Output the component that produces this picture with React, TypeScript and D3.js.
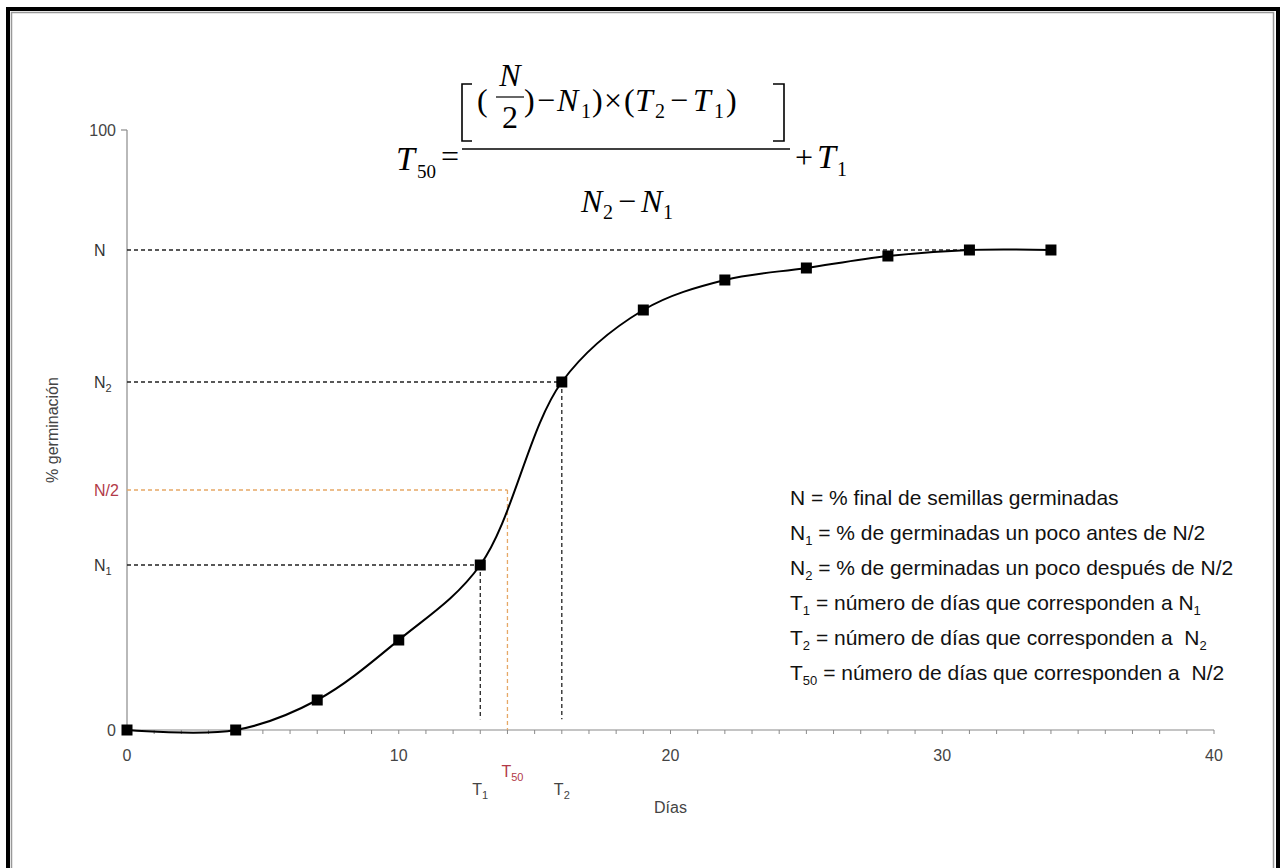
import React from 'react';
import * as d3 from 'd3';

// germination curve
const days = [0, 4, 7, 10, 13, 16, 19, 22, 25, 28, 31, 34];
const germination = [0, 0, 5, 15, 27.5, 58, 70, 75, 77, 79, 80, 80];
const xTicks = [0, 10, 20, 30, 40];
const t50Day = 14;

const legendRows = [
  [{ t: 'N' }, { t: ' = % final de semillas germinadas' }],
  [{ t: 'N' }, { t: '1', sub: true }, { t: ' = % de germinadas un poco antes de N/2' }],
  [{ t: 'N' }, { t: '2', sub: true }, { t: ' = % de germinadas un poco después de N/2' }],
  [{ t: 'T' }, { t: '1', sub: true }, { t: ' = número de días que corresponden a N' }, { t: '1', sub: true }],
  [{ t: 'T' }, { t: '2', sub: true }, { t: ' = número de días que corresponden a \u00a0N' }, { t: '2', sub: true }],
  [{ t: 'T' }, { t: '50', sub: true }, { t: ' = número de días que corresponden a \u00a0N/2' }],
];

const W = 1281;
const H = 868;
const sans = '"Liberation Sans", Arial, sans-serif';
const serif = '"Liberation Serif", "Times New Roman", serif';
const red = '#b23a48';
const orange = '#e6a866';

// formula glyphs: [text, x, baseline, italic, size]
const formula: [string, number, number, boolean, number][] = [
  ['T', 396, 170, true, 34],
  ['50', 417, 178, false, 19],
  ['=', 441, 167, false, 32],
  ['(', 477, 111, false, 32],
  [')', 524, 111, false, 32],
  ['−', 537, 111, false, 32],
  ['N', 557, 111, true, 32],
  ['1', 581, 118, false, 20],
  [')', 592, 111, false, 32],
  ['×', 604, 111, false, 32],
  ['(', 624, 111, false, 32],
  ['T', 635, 111, true, 32],
  ['2', 655, 118, false, 20],
  ['−', 670, 111, false, 32],
  ['T', 693, 111, true, 32],
  ['1', 714, 118, false, 20],
  [')', 726, 111, false, 32],
  ['N', 581, 212, true, 32],
  ['2', 603, 219, false, 20],
  ['−', 618, 212, false, 32],
  ['N', 641, 212, true, 32],
  ['1', 663, 219, false, 20],
  ['+', 795, 168, false, 32],
  ['T', 817, 168, true, 34],
  ['1', 837, 176, false, 20],
];

export default function App() {
  const x = d3.scaleLinear().domain([0, 40]).range([127, 1214]);
  const y = d3.scaleLinear().domain([0, 100]).range([730, 130]);

  const N = germination[germination.length - 1];
  const N1 = germination[4];
  const N2 = germination[5];
  const T1 = days[4];
  const T2 = days[5];

  const pts = days.map((d, i) => [d, germination[i]] as [number, number]);
  const line = d3.line<[number, number]>()
    .x(d => x(d[0]))
    .y(d => y(d[1]))
    .curve(d3.curveCatmullRom.alpha(0.5));

  const minor = d3.range(0, 41, 1);

  const yLabels = [
    { v: N, parts: [{ t: 'N' }], color: '#333' },
    { v: N2, parts: [{ t: 'N' }, { t: '2', sub: true }], color: '#333' },
    { v: N / 2, parts: [{ t: 'N/2' }], color: red },
    { v: N1, parts: [{ t: 'N' }, { t: '1', sub: true }], color: '#333' },
  ];

  const renderParts = (parts: any[], subSize: number, shift: number) =>
    parts.map((p, i) =>
      p.sub ? (
        <tspan key={i} fontSize={subSize} dy={shift}>{p.t}</tspan>
      ) : (
        <tspan key={i} dy={i > 0 && parts[i - 1].sub ? -shift : 0}>{p.t}</tspan>
      )
    );

  return (
    <svg width={W} height={H} style={{ position: 'absolute', left: 0, top: 0, background: '#fff' }}>
      {/* frame */}
      <rect x={8} y={9} width={1270} height={900} fill="none" stroke="#000" strokeWidth={4} />
      <rect x={11.5} y={12.5} width={1262} height={900} fill="none" stroke="#999" strokeWidth={1.5} />

      {/* formula */}
      <g fontFamily={serif} fill="#000">
        {formula.map(([t, fx, fy, it, fs], i) => (
          <text key={i} x={fx} y={fy} fontSize={fs} fontStyle={it ? 'italic' : 'normal'}>{t}</text>
        ))}
        <text x={510} y={86} fontSize={32} fontStyle="italic" textAnchor="middle">N</text>
        <line x1={496} x2={524} y1={97} y2={97} stroke="#000" strokeWidth={1.2} />
        <text x={510} y={128} fontSize={32} textAnchor="middle">2</text>
        <line x1={462} x2={790} y1={149} y2={149} stroke="#000" strokeWidth={1.5} />
        <path d="M472,84 H462 V141 H472" fill="none" stroke="#000" strokeWidth={1.6} />
        <path d="M773,84 H784 V141 H773" fill="none" stroke="#000" strokeWidth={1.6} />
      </g>

      {/* axes */}
      <line x1={x(0)} x2={x(0)} y1={y(100)} y2={y(0)} stroke="#8a8a8a" strokeWidth={1.2} />
      <line x1={x(0) - 6} x2={x(0)} y1={y(100)} y2={y(100)} stroke="#8a8a8a" strokeWidth={1.2} />
      <line x1={x(0)} x2={x(40)} y1={y(0)} y2={y(0)} stroke="#8a8a8a" strokeWidth={1.2} />
      {minor.map(d => (
        <line key={d} x1={x(d)} x2={x(d)} y1={y(0)} y2={y(0) + 4} stroke="#8a8a8a" strokeWidth={1} />
      ))}
      <g fontFamily={sans} fontSize={16} fill="#444">
        {xTicks.map(t => (
          <text key={t} x={x(t)} y={y(0) + 31} textAnchor="middle">{t}</text>
        ))}
        <text x={116} y={y(100) + 6} textAnchor="end">100</text>
        <text x={116} y={y(0) + 6} textAnchor="end">0</text>
        <text x={x(20)} y={y(0) + 83} textAnchor="middle">Días</text>
        <text transform={`translate(58,${y(50)}) rotate(-90)`} textAnchor="middle">% germinación</text>
        {yLabels.map((l, i) => (
          <text key={i} x={94} y={y(l.v) + 6} fill={l.color}>
            {renderParts(l.parts, 11, 4)}
          </text>
        ))}
        <text x={x(T1)} y={y(0) + 65} textAnchor="middle">
          <tspan>T</tspan><tspan fontSize={11} dy={4}>1</tspan>
        </text>
        <text x={x(T2)} y={y(0) + 65} textAnchor="middle">
          <tspan>T</tspan><tspan fontSize={11} dy={4}>2</tspan>
        </text>
        <text x={x(t50Day) + 5} y={y(0) + 47} textAnchor="middle" fill={red}>
          <tspan>T</tspan><tspan fontSize={11} dy={4}>50</tspan>
        </text>
      </g>

      {/* reference dashes */}
      <g fill="none" strokeWidth={1.3} strokeDasharray="4,3">
        <line x1={x(0)} x2={x(31)} y1={y(N)} y2={y(N)} stroke="#222" />
        <line x1={x(0)} x2={x(T2)} y1={y(N2)} y2={y(N2)} stroke="#222" />
        <line x1={x(T2)} x2={x(T2)} y1={y(N2)} y2={y(1.8)} stroke="#222" />
        <line x1={x(0)} x2={x(T1)} y1={y(N1)} y2={y(N1)} stroke="#222" />
        <line x1={x(T1)} x2={x(T1)} y1={y(N1)} y2={y(1.8)} stroke="#222" />
        <line x1={x(0)} x2={x(t50Day)} y1={y(N / 2)} y2={y(N / 2)} stroke={orange} />
        <line x1={x(t50Day)} x2={x(t50Day)} y1={y(N / 2)} y2={y(0)} stroke={orange} />
      </g>

      {/* curve and points */}
      <path d={line(pts) || ''} fill="none" stroke="#000" strokeWidth={2} />
      {pts.map((p, i) => (
        <rect key={i} x={x(p[0]) - 5.5} y={y(p[1]) - 5.5} width={11} height={11} fill="#000" />
      ))}

      {/* legend */}
      <g fontFamily={sans} fontSize={21} fill="#111">
        {legendRows.map((row, i) => (
          <text key={i} x={790} y={505 + i * 35}>
            {renderParts(row, 13, 5)}
          </text>
        ))}
      </g>
    </svg>
  );
}
